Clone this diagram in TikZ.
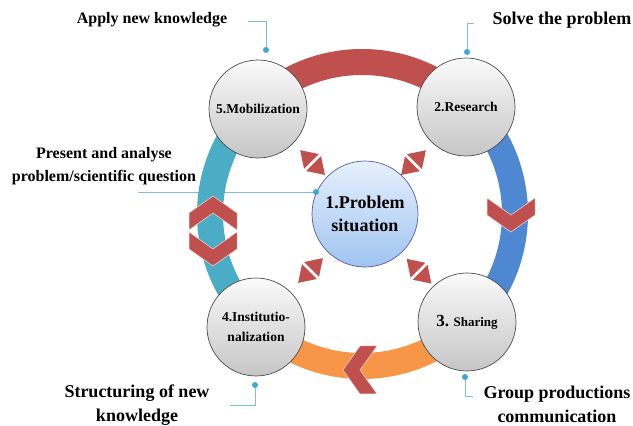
\documentclass[tikz,border=0pt]{standalone}
\usepackage{fontspec}
\setmainfont{Liberation Serif}
\usepackage{xcolor}
\usepackage{tikz}
\usetikzlibrary{calc}

\definecolor{ringred}{HTML}{C0504D}
\definecolor{ringblue}{HTML}{4F88D2}
\definecolor{ringorange}{HTML}{F79646}
\definecolor{ringteal}{HTML}{4BACC6}
\definecolor{callline}{HTML}{7CC0DE}
\definecolor{calldot}{HTML}{3FA6D8}
\definecolor{coretop}{HTML}{E6F0FC}
\definecolor{corebottom}{HTML}{9FC4F0}

\tikzset{
	stage/.style={circle,minimum size=98pt,inner sep=0pt,align=center,
		draw=black!70,line width=0.7pt,top color=gray!4,bottom color=gray!45,
		font=\bfseries\fontsize{13.5}{20}\selectfont},
	core/.style={stage,minimum size=106pt,draw=blue!30!gray,
		top color=coretop,bottom color=corebottom,
		font=\bfseries\fontsize{18}{23}\selectfont},
	ring/.style={line width=26pt},
	note/.style={align=center,inner sep=0pt,font=\bfseries\fontsize{18}{24}\selectfont},
	smallnote/.style={note,font=\bfseries\fontsize{16}{23}\selectfont},
	calloutline/.style={callline,line width=0.9pt}
}

\begin{document}
\begin{tikzpicture}[x=1pt,y=1pt,
	chevron/.pic={\fill[ringred,draw=white!80!ringred,line width=0.5pt]
		(-17,24)--(0,0)--(-17,-24)--(0,-24)--(17,0)--(0,24)--cycle;},
	dblarrow/.pic={\fill[ringred]
		(1.5,10.5)--(17.5,0)--(1.5,-10.5)--cycle
		(-1.5,10.5)--(-17.5,0)--(-1.5,-10.5)--cycle;}]
	\useasboundingbox (0,0) rectangle (633,426);
	
	% centres of the ring and of the five stages
	\coordinate (O) at (362,212);
	\coordinate (c1) at (365,212);
	\coordinate (c2) at (466,319);
	\coordinate (c3) at (467,104);
	\coordinate (c4) at (256,99);
	\coordinate (c5) at (258,317);
	
	% callout ends
	\coordinate (dApply) at (266,376);
	\coordinate (lApply) at (248,405);
	\coordinate (dSolve) at (467,374);
	\coordinate (lSolve) at (474,403);
	\coordinate (dPresent) at (316,234);
	\coordinate (lPresent) at (138,234);
	\coordinate (dStruct) at (255,41);
	\coordinate (lStruct) at (230,21);
	\coordinate (dGroup) at (465,49);
	\coordinate (lGroup) at (473,30);
	
	\draw[calloutline](lApply)-|(dApply)
	(lSolve)-|(dSolve)
	(lPresent)--(dPresent)
	(dStruct)|-(lStruct)
	(dGroup)|-(lGroup);
	
	% the ring, one colour per step
	\draw[ring,ringred](O)++(135:152)arc[start angle=135,end angle=45,radius=152];
	\draw[ring,ringblue](O)++(45:153)arc[start angle=45,end angle=-45,radius=153];
	\draw[ring,ringorange](O)++(-45:152)arc[start angle=-45,end angle=-135,radius=152];
	\draw[ring,ringteal](O)++(225:152)arc[start angle=225,end angle=135,radius=152];
	
	\pic[rotate=-90] at (511,211) {chevron};
	\pic[rotate=180] at (360,56) {chevron};
	\pic[rotate=90] at (213,213) {chevron};
	\pic[rotate=-90] at (213,177) {chevron};
	
	% two-way arrows between the centre and each stage
	\pic[rotate=-45] at ($(c1)!.49!(c5)$) {dblarrow};
	\pic[rotate=45] at ($(c1)!.48!(c2)$) {dblarrow};
	\pic[rotate=45] at ($(c1)!.5!(c4)$) {dblarrow};
	\pic[rotate=-45] at ($(c1)!.53!(c3)$) {dblarrow};
	
	\node[stage](p5) at (c5) {5.Mobilization};
	\node[stage](p2) at (c2) {2.Research};
	\node[stage](p3) at (c3) {{\fontsize{17}{20}\selectfont 3.} {\fontsize{13}{16}\selectfont Sharing}};
	\node[stage](p4) at (c4) {4.Institutio-\\nalization};
	\node[core](p1) at (c1) {1.Problem\\situation};
	
	\foreach \d in {dApply,dSolve,dPresent,dStruct,dGroup}
	\fill[calldot](\d) circle (3);
	
	\node[smallnote](tApply) at (152,406) {Apply new knowledge};
	\node[note](tSolve) at (562,406) {Solve the problem};
	\node[smallnote](tPresent) at (104,259.5) {Present and analyse\\problem/scientific question};
	\node[note](tStruct) at (137,20.5) {Structuring of new\\knowledge};
	\node[note](tGroup) at (557,21.5) {Group productions\\communication};
\end{tikzpicture}
\end{document}
